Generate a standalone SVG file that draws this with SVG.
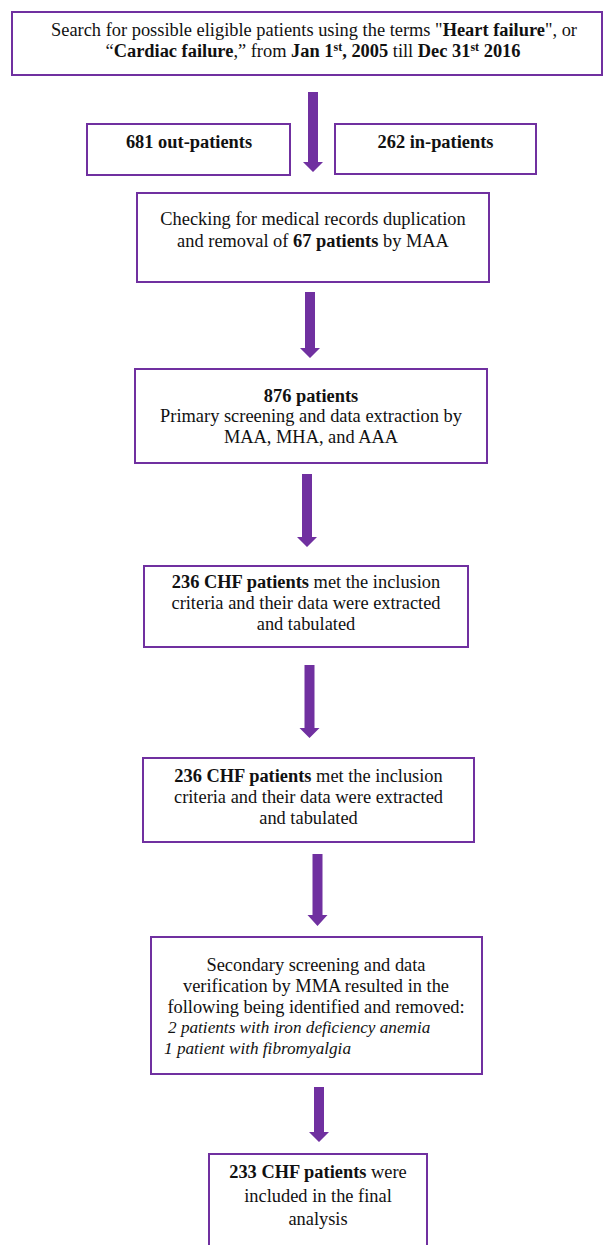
<svg xmlns="http://www.w3.org/2000/svg" width="603" height="1245" viewBox="0 0 603 1245">
<style>
.box{fill:#fff;stroke:#7030a0;stroke-width:2}
.arr{fill:#7030a0}
text{font-family:"Liberation Serif","Times New Roman",serif;font-size:18.4px;fill:#111;text-anchor:middle}
.b{font-weight:bold}
.i{font-style:italic;font-size:17.2px}
.l{text-anchor:start}
</style>
<rect width="603" height="1245" fill="#fff"/>
<g id="connectors">
<polygon class="arr" points="308,92 318,92 318,162 323,162 313,172 303,162 308,162"/>
<polygon class="arr" points="305,292 315,292 315,348 320,348 310,358 300,348 305,348"/>
<polygon class="arr" points="302,474 312,474 312,537 317,537 307,547 297,537 302,537"/>
<polygon class="arr" points="304.5,665 314.5,665 314.5,728 319.5,728 309.5,738 299.5,728 304.5,728"/>
<polygon class="arr" points="312.5,854 322.5,854 322.5,915 327.5,915 317.5,926 307.5,915 312.5,915"/>
<polygon class="arr" points="314,1087 324,1087 324,1132 329,1132 319,1142 309,1132 314,1132"/>
</g>
<g id="search">
<rect class="box" x="12" y="12" width="590" height="63"/>
<text x="314" y="36">Search for possible eligible patients using the terms "<tspan class="b">Heart failure</tspan>", or</text>
<text x="313" y="57">“<tspan class="b">Cardiac failure</tspan>,” from <tspan class="b">Jan 1<tspan font-size="12" dy="-6">st</tspan><tspan dy="6">, 2005</tspan></tspan> till <tspan class="b">Dec 31<tspan font-size="12" dy="-6">st</tspan><tspan dy="6"> 2016</tspan></tspan></text>
</g>
<g id="outpatients">
<rect class="box" x="87" y="124" width="203" height="51"/>
<text class="b" x="189" y="148">681 out-patients</text>
</g>
<g id="inpatients">
<rect class="box" x="335" y="124" width="201" height="50"/>
<text class="b" x="435.5" y="148">262 in-patients</text>
</g>
<g id="dedup">
<rect class="box" x="137" y="193" width="352" height="89"/>
<text x="313" y="225">Checking for medical records duplication</text>
<text x="313" y="247">and removal of <tspan class="b">67 patients</tspan> by MAA</text>
</g>
<g id="primary">
<rect class="box" x="135" y="369" width="352" height="94"/>
<text class="b" x="311" y="402">876 patients</text>
<text x="311" y="422">Primary screening and data extraction by</text>
<text x="311" y="443">MAA, MHA, and AAA</text>
</g>
<g id="included1">
<rect class="box" x="144" y="566" width="324" height="81"/>
<text x="306" y="588"><tspan class="b">236 CHF patients</tspan> met the inclusion</text>
<text x="306" y="609">criteria and their data were extracted</text>
<text x="306" y="630">and tabulated</text>
</g>
<g id="included2">
<rect class="box" x="143" y="758" width="331" height="84"/>
<text x="308.5" y="782"><tspan class="b">236 CHF patients</tspan> met the inclusion</text>
<text x="308.5" y="803">criteria and their data were extracted</text>
<text x="308.5" y="824">and tabulated</text>
</g>
<g id="secondary">
<rect class="box" x="151" y="937" width="331" height="137"/>
<text x="316" y="971">Secondary screening and data</text>
<text x="316" y="992">verification by MMA resulted in the</text>
<text x="316" y="1013">following being identified and removed:</text>
<text class="i l" x="168" y="1033">2 patients with iron deficiency anemia</text>
<text class="i l" x="164" y="1054">1 patient with fibromyalgia</text>
</g>
<g id="final">
<rect class="box" x="209" y="1154" width="218" height="100"/>
<text x="318" y="1178"><tspan class="b">233 CHF patients</tspan> were</text>
<text x="318" y="1202">included in the final</text>
<text x="318" y="1225">analysis</text>
</g>
</svg>
